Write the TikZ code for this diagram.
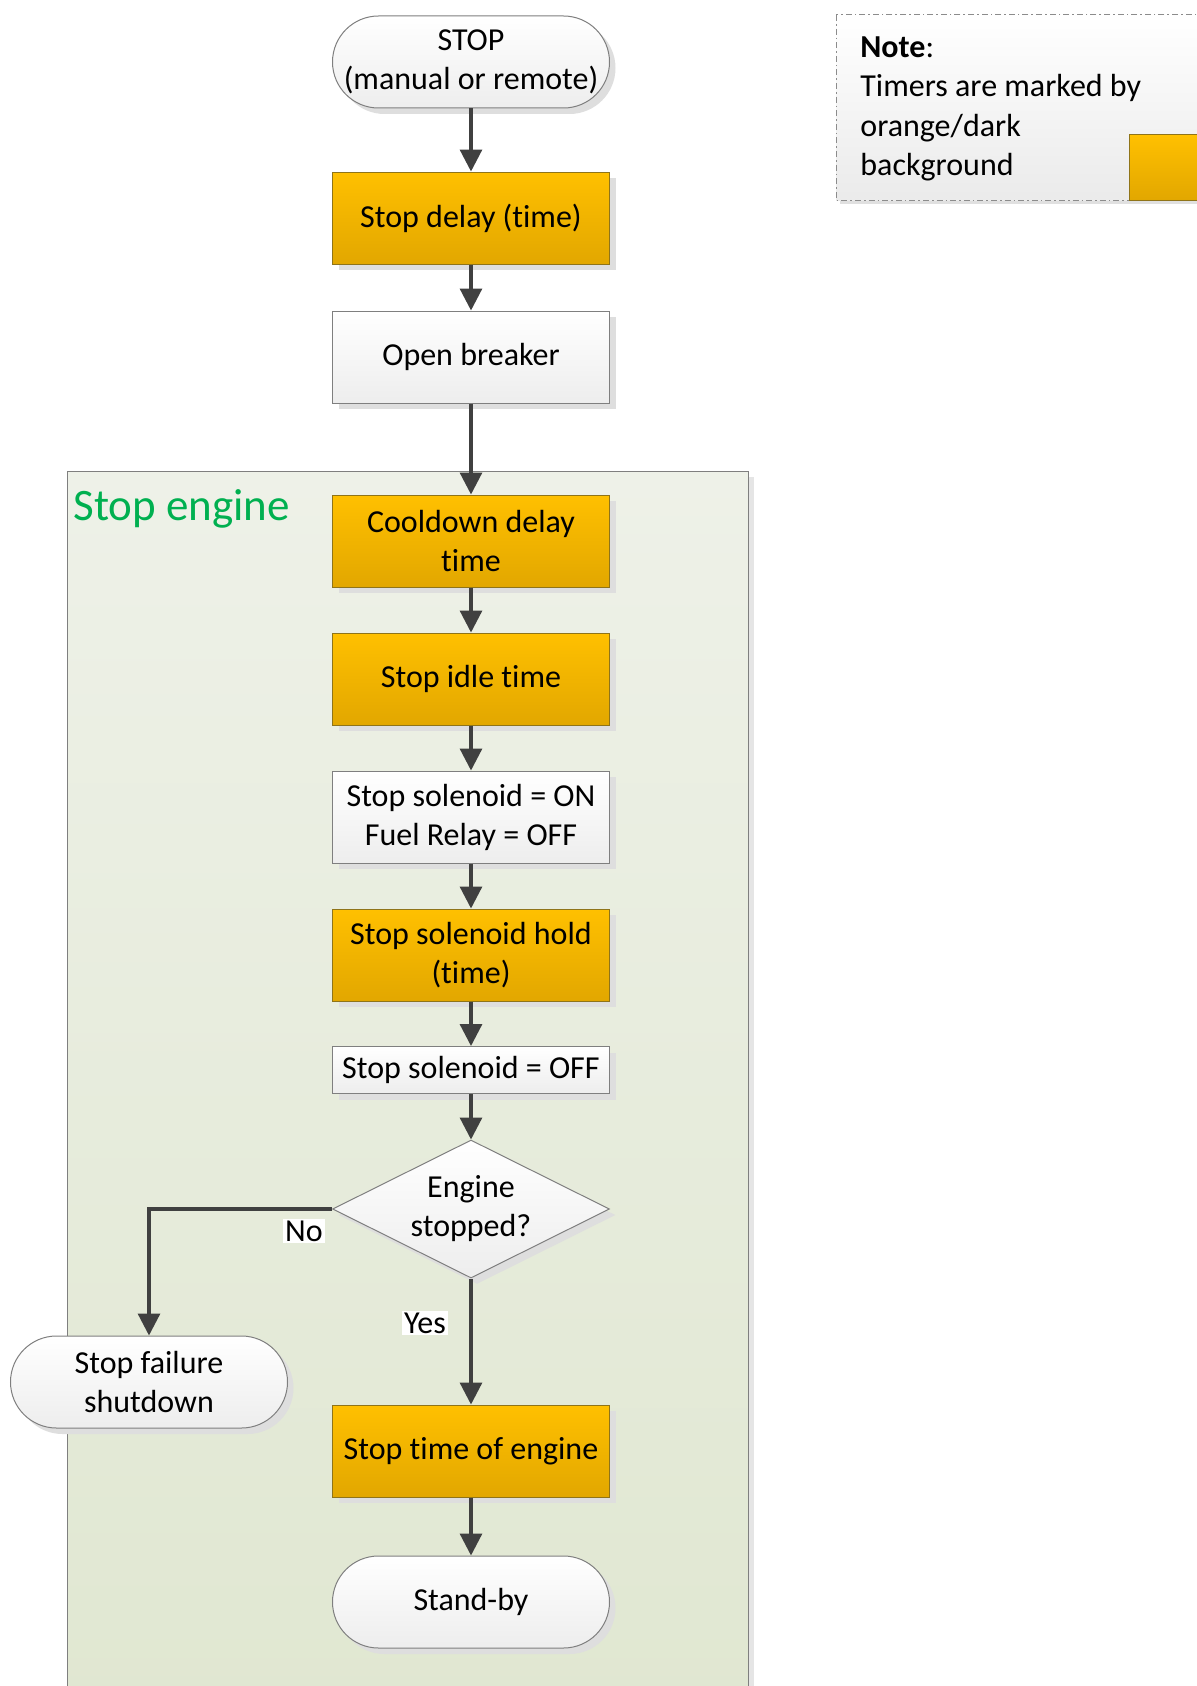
\documentclass[tikz,border=0pt]{standalone}
\usepackage{fontspec}
\setmainfont[Ligatures={NoCommon}]{Carlito}
\usetikzlibrary{positioning,arrows.meta,shapes.geometric,shadows}
\definecolor{fcorangetop}{HTML}{FFC000}
\definecolor{fcorangebot}{HTML}{E2A700}
\definecolor{fcorangeedge}{HTML}{8F7419}
\definecolor{fcgray}{HTML}{7F7F7F}
\definecolor{fcarrow}{HTML}{404040}
\definecolor{fcgreen}{HTML}{00B050}
\definecolor{fcgrouptop}{HTML}{EEF1E8}
\definecolor{fcgroupbot}{HTML}{E0E7D1}

\begin{document}
\begin{tikzpicture}[
  x=0.5pt, y=-0.5pt,
  font=\fontsize{16}{19.5}\selectfont,
  boxshadow/.style={drop shadow={shadow xshift=3pt, shadow yshift=-3pt, fill=black!13, opacity=1}},
  basebox/.style={rectangle, minimum width=138.5pt, minimum height=46pt, inner sep=2pt, align=center, line width=0.5pt, boxshadow},
  timerbox/.style={basebox, draw=fcorangeedge, top color=fcorangetop, bottom color=fcorangebot},
  plainbox/.style={basebox, draw=fcgray, top color=white, bottom color=black!7},
  termbox/.style={plainbox, rounded corners=23pt},
  decision/.style={diamond, draw=fcgray, line width=0.5pt, inner sep=0pt, minimum width=138.5pt, minimum height=69pt, top color=white, bottom color=black!7, boxshadow},
  flowarrow/.style={draw=fcarrow, line width=1.6pt, -{Triangle[length=11pt, width=11pt]}},
  edgelabel/.style={fill=white, inner sep=1pt},
]
\useasboundingbox (0,0) rectangle (1196,1686);

% Stop engine group (behind everything)
\draw[fcgray, line width=0.5pt, top color=fcgrouptop, bottom color=fcgroupbot,
      drop shadow={shadow xshift=3pt, shadow yshift=-3pt, fill=black!10, opacity=1}]
  (67,471) rectangle (748,1720);
\node[font=\fontsize{22.5}{26}\selectfont, text=fcgreen, anchor=west, inner sep=0pt] (grouptitle) at (73,509) {Stop engine};

% Note
\draw[draw=fcgray!90, line width=0.5pt, dash pattern=on 3pt off 1.5pt on 0.8pt off 1.5pt,
      top color=white, bottom color=black!8,
      drop shadow={shadow xshift=2pt, shadow yshift=-2pt, fill=black!12, opacity=1}]
  (836,15) rectangle (1230,200);
\draw[fcorangeedge, line width=0.5pt, top color=fcorangetop, bottom color=fcorangebot] (1129,135) rectangle (1230,200);
\node[anchor=west, align=left, inner sep=0pt, font=\fontsize{16}{19.75}\selectfont] (notetext) at (860,109)
  {\textbf{Note}:\\Timers are marked by\\orange/dark\\background};

% Flow nodes
\node[termbox]  (stop)     at (471,62)   {STOP\\(manual or remote)};
\node[timerbox] (delay)    at (471,218)  {Stop delay (time)};
\node[plainbox] (breaker)  at (471,357)  {Open breaker};
\node[timerbox] (cool)     at (471,541)  {Cooldown delay\\time};
\node[timerbox] (idle)     at (471,679)  {Stop idle time};
\node[plainbox] (solon)    at (471,817)  {Stop solenoid = ON\\Fuel Relay = OFF};
\node[timerbox] (hold)     at (471,955)  {Stop solenoid hold\\(time)};
\node[plainbox, minimum height=23.5pt] (soloff) at (471,1070) {Stop solenoid = OFF};
\node[decision] (chk)      at (471,1209) {};
\node[align=center] (chktext) at (471,1209) {Engine\\stopped?};
\node[termbox]  (fail)     at (149,1382) {Stop failure\\shutdown};
\node[timerbox] (stoptime) at (471,1451) {Stop time of engine};
\node[termbox]  (standby)  at (471,1602) {Stand-by};

% Connectors
\draw[flowarrow] (stop) -- (delay);
\draw[flowarrow] (delay) -- (breaker);
\draw[flowarrow] (breaker) -- (cool);
\draw[flowarrow] (cool) -- (idle);
\draw[flowarrow] (idle) -- (solon);
\draw[flowarrow] (solon) -- (hold);
\draw[flowarrow] (hold) -- (soloff);
\draw[flowarrow] (soloff) -- (chk);
\draw[flowarrow] (chk.west) -| (fail.north);
\draw[flowarrow] (chk.south) -- (stoptime.north);
\draw[flowarrow] (stoptime) -- (standby);
\node[edgelabel] (nolabel)  at (304,1231) {No};
\node[edgelabel] (yeslabel) at (425,1323) {Yes};
\end{tikzpicture}
\end{document}
